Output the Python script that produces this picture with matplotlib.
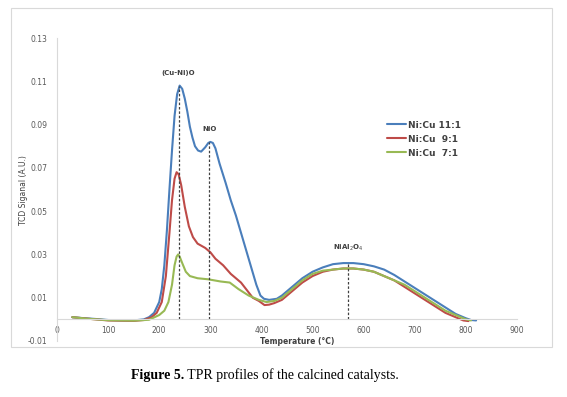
import matplotlib
matplotlib.use("Agg")
import matplotlib.pyplot as plt
from matplotlib.patches import Rectangle

# ---- data ----
t_1 = [30, 50, 80, 100, 130, 150, 170, 180, 190, 200, 205, 210, 215, 220, 225, 230, 235, 240,
       245, 250, 255, 260, 265, 270, 276, 282, 290, 296, 300, 305, 310, 318, 330, 340, 350,
       360, 370, 380, 390, 398, 405, 415, 430, 440, 460, 480, 500, 520, 540, 560, 580, 600,
       620, 640, 660, 680, 700, 720, 740, 760, 780, 800, 810, 820]
s_1 = [0.001, 0.0006, 0.0001, -0.0003, -0.0005, -0.0005, 0.0, 0.001, 0.003, 0.008, 0.014, 0.025,
       0.041, 0.060, 0.078, 0.094, 0.104, 0.108, 0.1065, 0.102, 0.096, 0.089, 0.084, 0.080,
       0.078, 0.0775, 0.0795, 0.0815, 0.082, 0.0815, 0.079, 0.072, 0.063, 0.055, 0.048, 0.040,
       0.032, 0.024, 0.016, 0.011, 0.0095, 0.009, 0.0095, 0.011, 0.015, 0.019, 0.022, 0.024,
       0.0255, 0.026, 0.026, 0.0255, 0.0245, 0.023, 0.0205, 0.0175, 0.0145, 0.0115, 0.0085,
       0.0055, 0.0025, 0.0005, -0.0003, -0.0005]

t_2 = [30, 60, 100, 150, 170, 185, 195, 205, 213, 220, 225, 230, 234, 238, 243, 250, 258, 266,
       275, 290, 300, 310, 325, 340, 360, 383, 395, 406, 415, 425, 440, 460, 480, 500, 520,
       540, 560, 580, 600, 620, 640, 660, 680, 700, 720, 740, 760, 780, 795, 805]
s_2 = [0.001, 0.0003, -0.0005, -0.0007, -0.0003, 0.001, 0.003, 0.008, 0.020, 0.040, 0.055, 0.065,
       0.068, 0.067, 0.062, 0.052, 0.043, 0.038, 0.035, 0.033, 0.031, 0.028, 0.025, 0.021,
       0.017, 0.010, 0.0085, 0.0066, 0.0068, 0.0075, 0.009, 0.013, 0.017, 0.020, 0.022, 0.023,
       0.0235, 0.0235, 0.023, 0.022, 0.020, 0.018, 0.015, 0.012, 0.009, 0.006, 0.003, 0.001,
       -0.0005, -0.0008]

t_3 = [30, 60, 100, 150, 180, 200, 210, 218, 225, 230, 234, 237, 240, 245, 252, 260, 275, 296,
       320, 338, 355, 375, 395, 410, 425, 440, 460, 480, 500, 520, 540, 560, 580, 600, 620,
       640, 660, 680, 700, 720, 740, 760, 780, 800, 810]
s_3 = [0.001, 0.0003, -0.0004, -0.0006, -0.0002, 0.002, 0.004, 0.008, 0.016, 0.025, 0.029, 0.030,
       0.029, 0.026, 0.022, 0.020, 0.019, 0.0185, 0.0175, 0.017, 0.014, 0.011, 0.009, 0.008,
       0.0085, 0.010, 0.014, 0.018, 0.021, 0.0225, 0.023, 0.0235, 0.0235, 0.023, 0.022, 0.020,
       0.018, 0.016, 0.013, 0.010, 0.007, 0.004, 0.002, 0.0, -0.0005]

series_labels = ["Ni:Cu 11:1", "Ni:Cu  9:1", "Ni:Cu  7:1"]
series_colors = ["#4a7ebb", "#be4b48", "#98b954"]

peak_t = [238, 298, 570]
peak_v = [0.108, 0.082, 0.026]
peak_labels = ["(Cu-Ni)O", "NiO", "NiAl$_2$O$_4$"]

x_ticks = [0, 100, 200, 300, 400, 500, 600, 700, 800, 900]
y_ticks = [-0.01, 0.01, 0.03, 0.05, 0.07, 0.09, 0.11, 0.13]

# ---- figure ----
W, H = 567, 397
fig = plt.figure(figsize=(W / 100, H / 100), dpi=100)
fig.patch.set_facecolor("white")

# chart-area border
fig.add_artist(Rectangle((11 / W, 1 - 347 / H), (552 - 11) / W, (347 - 8) / H,
                         transform=fig.transFigure, fill=False, edgecolor="#d9d9d9", lw=0.8))

ax = fig.add_axes([57 / W, 1 - 341 / H, (517 - 57) / W, (341 - 38) / H])
ax.set_xlim(0, 900)
ax.set_ylim(-0.01, 0.13)

for t, s, lab, c in zip([t_1, t_2, t_3], [s_1, s_2, s_3], series_labels, series_colors):
    ax.plot(t, s, color=c, lw=1.5, label=lab, solid_joinstyle="round", solid_capstyle="round")

for pt, pv, pl in zip(peak_t, peak_v, peak_labels):
    ax.plot([pt, pt], [0, pv], ls=(0, (2, 1.5)), color="#404040", lw=0.9)
    ax.text(pt, pv + 0.0045, pl, ha="center", va="bottom", fontsize=5, color="#404040",
            fontweight="bold")

ax.spines["top"].set_visible(False)
ax.spines["right"].set_visible(False)
ax.spines["left"].set_color("#d9d9d9")
ax.spines["bottom"].set_position(("data", 0))
ax.spines["bottom"].set_color("#d9d9d9")
ax.set_xticks(x_ticks)
ax.set_yticks(y_ticks)
ax.set_yticklabels([f"{v:.2f}" for v in y_ticks])
ax.tick_params(axis="both", length=0, labelsize=5.5, labelcolor="#595959")
ax.tick_params(axis="x", pad=5)
ax.tick_params(axis="y", pad=7)
ax.set_facecolor("none")

leg = ax.legend(loc="upper left", bbox_to_anchor=((383 - 57) / 460, 1 - (117 - 38) / 303),
                frameon=False, fontsize=6.5, handlelength=2.2, handletextpad=0.2,
                labelspacing=0.55, borderaxespad=0)
for txt in leg.get_texts():
    txt.set_color("#404040")
    txt.set_fontweight("bold")

fig.text(24 / W, 1 - 190 / H, "TCD Siganal (A.U.)", rotation=90, ha="center", va="center",
         fontsize=5.5, color="#404040")
fig.text(297 / W, 1 - 342 / H, "Temperature (°C)", ha="center", va="center",
         fontsize=5.5, color="#404040", fontweight="bold")

# caption
cap_y = 1 - 375 / H
t1 = fig.text(131 / W, cap_y, "Figure 5.", ha="left", va="center", fontsize=10,
              family="Liberation Serif", fontweight="bold")
fig.canvas.draw()
bb = t1.get_window_extent()
fig.text(bb.x1 / W, cap_y, " TPR profiles of the calcined catalysts.", ha="left", va="center",
         fontsize=10, family="Liberation Serif")

fig.savefig("out.png", dpi=100)
